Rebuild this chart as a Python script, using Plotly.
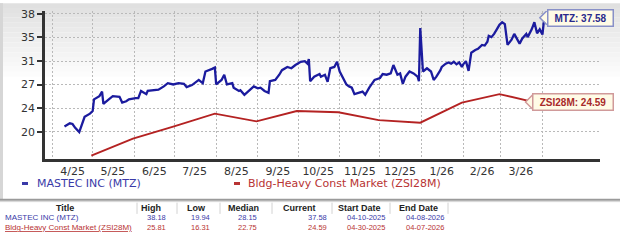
import plotly.graph_objects as go

# ---------------- data ----------------
mtz_dates = [
    "2025-04-10", "2025-04-14", "2025-04-16", "2025-04-18", "2025-04-21", "2025-04-24", "2025-04-25",
    "2025-04-29", "2025-05-01", "2025-05-02", "2025-05-06", "2025-05-08", "2025-05-09", "2025-05-13",
    "2025-05-16", "2025-05-21", "2025-05-23", "2025-05-26", "2025-05-28", "2025-06-02", "2025-06-04",
    "2025-06-06", "2025-06-10", "2025-06-11", "2025-06-15", "2025-06-19", "2025-06-23", "2025-06-26",
    "2025-06-30", "2025-07-04", "2025-07-08", "2025-07-10", "2025-07-14", "2025-07-19", "2025-07-22",
    "2025-07-24", "2025-07-29", "2025-07-31", "2025-08-01", "2025-08-05", "2025-08-07", "2025-08-09",
    "2025-08-13", "2025-08-14", "2025-08-18", "2025-08-19", "2025-08-22", "2025-08-25", "2025-08-29",
    "2025-09-01", "2025-09-03", "2025-09-06", "2025-09-09", "2025-09-10", "2025-09-14", "2025-09-17",
    "2025-09-19", "2025-09-23", "2025-09-26", "2025-09-29", "2025-10-03", "2025-10-06", "2025-10-08",
    "2025-10-09", "2025-10-10", "2025-10-13", "2025-10-17", "2025-10-18", "2025-10-21", "2025-10-23",
    "2025-10-25", "2025-10-28", "2025-10-30", "2025-11-01", "2025-11-04", "2025-11-06", "2025-11-08",
    "2025-11-10", "2025-11-12", "2025-11-15", "2025-11-18", "2025-11-20", "2025-11-23", "2025-11-27",
    "2025-12-01", "2025-12-03", "2025-12-06", "2025-12-09", "2025-12-11", "2025-12-14", "2025-12-16",
    "2025-12-18", "2025-12-20", "2025-12-23", "2025-12-26", "2025-12-29", "2025-12-30", "2025-12-31",
    "2026-01-02", "2026-01-05", "2026-01-08", "2026-01-10", "2026-01-12", "2026-01-15", "2026-01-16",
    "2026-01-19", "2026-01-21", "2026-01-23", "2026-01-25", "2026-01-27", "2026-01-29", "2026-01-31",
    "2026-02-01", "2026-02-03", "2026-02-05", "2026-02-06", "2026-02-07", "2026-02-10", "2026-02-12",
    "2026-02-15", "2026-02-17", "2026-02-19", "2026-02-20", "2026-02-22", "2026-02-24", "2026-02-26",
    "2026-02-28", "2026-03-02", "2026-03-04", "2026-03-06", "2026-03-09", "2026-03-11", "2026-03-13",
    "2026-03-15", "2026-03-17", "2026-03-20", "2026-03-21", "2026-03-24", "2026-03-26", "2026-03-28",
    "2026-03-30", "2026-04-01", "2026-04-02", "2026-04-08",
]
mtz_values = [
    20.8, 21.3, 21.2, 20.6, 19.94, 21.5, 22.3,
    22.8, 23.2, 25.0, 25.5, 26.2, 24.3, 25.0,
    25.5, 25.4, 24.5, 24.7, 25.0, 25.2, 25.2,
    26.3, 25.8, 26.3, 26.4, 26.5, 27.0, 27.5,
    27.3, 27.5, 27.4, 26.9, 27.2, 28.0, 27.5,
    29.3, 29.7, 29.9, 27.3, 28.0, 28.8, 27.3,
    27.5, 26.8, 26.3, 26.4, 25.7, 26.3, 27.0,
    26.7, 26.8, 26.3, 26.0, 27.8, 28.0, 28.8,
    29.5, 30.0, 29.8, 30.3, 30.8, 30.9, 30.5,
    31.2, 27.8, 28.5, 28.9, 28.5, 28.8, 27.7,
    29.8, 30.0, 30.8, 29.3, 28.0, 27.3, 27.0,
    26.8, 25.8, 26.0, 26.2, 25.7, 26.8, 28.0,
    28.3, 28.9, 28.8, 29.0, 30.3, 28.8, 29.0,
    27.4, 28.5, 29.3, 29.0, 28.5, 27.8, 36.0,
    29.3, 29.8, 29.3, 28.0, 28.5, 29.5, 30.0,
    30.5, 30.7, 30.5, 30.8, 30.4, 30.7, 30.0,
    30.4, 30.9, 29.4, 30.8, 32.2, 32.6, 32.8,
    33.4, 33.3, 33.9, 34.8, 34.6, 35.1, 35.8,
    36.5, 36.9, 36.6, 33.4, 34.2, 35.1, 34.3,
    33.6, 34.4, 35.1, 34.6, 35.8, 36.9, 35.2,
    35.8, 35.0, 36.9, 37.58,
]

zsi_dates = [
    "2025-04-30", "2025-05-31", "2025-06-30", "2025-07-31", "2025-08-31", "2025-09-30",
    "2025-10-31", "2025-11-30", "2025-12-31", "2026-01-31", "2026-02-28", "2026-03-31", "2026-04-07",
]
zsi_values = [16.31, 18.94, 20.8, 22.8, 21.6, 23.2, 23.0, 21.8, 21.4, 24.5, 25.81, 24.3, 24.59]

y_tick_vals = [20, 23.64, 27.27, 30.91, 34.55, 38.18]
y_tick_text = ["20", "24", "27", "31", "35", "38"]

x_month_starts = [
    "2025-04-01", "2025-05-01", "2025-06-01", "2025-07-01", "2025-08-01", "2025-09-01", "2025-10-01",
    "2025-11-01", "2025-12-01", "2026-01-01", "2026-02-01", "2026-03-01", "2026-04-01",
]
x_label_dates = [
    "2025-04-16", "2025-05-16", "2025-06-16", "2025-07-16", "2025-08-16", "2025-09-16",
    "2025-10-16", "2025-11-16", "2025-12-16", "2026-01-16", "2026-02-15", "2026-03-16",
]
x_label_text = ["4/25", "5/25", "6/25", "7/25", "8/25", "9/25", "10/25", "11/25", "12/25", "1/26", "2/26", "3/26"]

series_names = ["MASTEC INC (MTZ)", "Bldg-Heavy Const Market (ZSI28M)"]
series_short = ["MTZ", "ZSI28M"]
table_headers = ["Title", "High", "Low", "Median", "Current", "Start Date", "End Date"]
table_high = ["38.18", "25.81"]
table_low = ["19.94", "16.31"]
table_median = ["28.15", "22.75"]
table_current = ["37.58", "24.59"]
table_start = ["04-10-2025", "04-30-2025"]
table_end = ["04-08-2026", "04-07-2026"]

# ---------------- styling / layout helpers ----------------
W, H = 620, 240
L, R, T, B = 45, 20, 8, 81
PW, PH = W - L - R, H - T - B


def px_x(x):
    return (x - L) / PW


def px_y(y):
    return (H - B - y) / PH


BLUE_LINE = "#1b1b9e"
RED_LINE = "#b42222"
BLUE_TXT = "#3a3aa8"
RED_TXT = "#b83333"
VERDANA = "DejaVu Sans"
ARIAL = "Liberation Sans"
GRID = "#b9b9b9"
CREAM = "#fffbe6"

fig = go.Figure()
fig.add_trace(go.Scatter(x=zsi_dates, y=zsi_values, mode="lines",
                         line=dict(color=RED_LINE, width=1.9), name=series_names[1], hoverinfo="skip"))
fig.add_trace(go.Scatter(x=mtz_dates, y=mtz_values, mode="lines",
                         line=dict(color=BLUE_LINE, width=2.3), name=series_names[0], hoverinfo="skip"))

shapes = []
# background gradient bands across the top
n_b = 16
for i in range(n_b):
    g = int(224 + (255 - 224) * i / (n_b - 1))
    col = f"rgb({g},{g},{g})"
    shapes.append(dict(type="rect", xref="paper", yref="paper", layer="below",
                       x0=px_x(0), x1=px_x(W), y0=px_y((i + 1) * 5), y1=px_y(i * 5),
                       fillcolor=col, line=dict(width=0)))
# left border bar
shapes.append(dict(type="rect", xref="paper", yref="paper", layer="below",
                   x0=px_x(0), x1=px_x(3), y0=px_y(200), y1=px_y(0),
                   fillcolor="#d6d6d6", line=dict(width=0)))
# legend dashes
shapes.append(dict(type="line", xref="paper", yref="paper", x0=px_x(22), x1=px_x(28),
                   y0=px_y(184), y1=px_y(184), line=dict(color=BLUE_TXT, width=3)))
shapes.append(dict(type="line", xref="paper", yref="paper", x0=px_x(234), x1=px_x(240),
                   y0=px_y(184), y1=px_y(184), line=dict(color=RED_TXT, width=3)))
# table separator lines
shapes.append(dict(type="line", xref="paper", yref="paper", x0=px_x(0), x1=px_x(W),
                   y0=px_y(200.5), y1=px_y(200.5), line=dict(color="#9a9a9a", width=2)))
shapes.append(dict(type="line", xref="paper", yref="paper", x0=px_x(0), x1=px_x(W),
                   y0=px_y(202.5), y1=px_y(202.5), line=dict(color="#d4d4d4", width=1)))
for cx in [137, 177, 220, 272, 332, 390, 448]:
    shapes.append(dict(type="line", xref="paper", yref="paper", x0=px_x(cx), x1=px_x(cx),
                       y0=px_y(215), y1=px_y(203.5), line=dict(color="#d2d2d2", width=1)))

# pointer triangles for the end-value labels (pixel offsets from last point)
label_specs = [
    (mtz_dates[-1], mtz_values[-1], -5, "#8890c8"),
    (zsi_dates[-1], zsi_values[-1], -18, "#d09a9a"),
]
for lx, ly, off, bcol in label_specs:
    tip = off - 7
    shapes.append(dict(type="path", xref="x", yref="y", xsizemode="pixel", ysizemode="pixel",
                       xanchor=lx, yanchor=ly, path=f"M {off+1},-7 L {tip},0 L {off+1},7 Z",
                       fillcolor=CREAM, line=dict(width=0), layer="above"))
    shapes.append(dict(type="path", xref="x", yref="y", xsizemode="pixel", ysizemode="pixel",
                       xanchor=lx, yanchor=ly, path=f"M {off},-7 L {tip},0 L {off},7",
                       line=dict(color=bcol, width=1.5), layer="above"))

annotations = []
# legend text
annotations.append(dict(xref="paper", yref="paper", x=px_x(35), y=px_y(184), xanchor="left", yanchor="middle",
                        text=series_names[0], showarrow=False, font=dict(family=VERDANA, size=11, color=BLUE_TXT)))
annotations.append(dict(xref="paper", yref="paper", x=px_x(246), y=px_y(184), xanchor="left", yanchor="middle",
                        text=series_names[1], showarrow=False, font=dict(family=VERDANA, size=11, color=RED_TXT)))

# end-value labels
annotations.append(dict(xref="x", yref="y", x=mtz_dates[-1], y=mtz_values[-1], xanchor="left", yanchor="middle",
                        xshift=-5, text=f"<b>{series_short[0]}: {mtz_values[-1]:.2f}</b>", showarrow=False,
                        bgcolor=CREAM, bordercolor="#8890c8", borderwidth=1.5, borderpad=2, width=60,
                        font=dict(family=ARIAL, size=10, color="#2a2a8c")))
annotations.append(dict(xref="x", yref="y", x=zsi_dates[-1], y=zsi_values[-1], xanchor="left", yanchor="middle",
                        xshift=-18, text=f"<b>{series_short[1]}: {zsi_values[-1]:.2f}</b>", showarrow=False,
                        bgcolor=CREAM, bordercolor="#d09a9a", borderwidth=1.5, borderpad=2, width=75,
                        font=dict(family=ARIAL, size=10, color="#a82a2a")))

# table header
header_centers = [65, 151, 196, 243.5, 299.5, 359.5, 418]
for hx, htxt in zip(header_centers, table_headers):
    annotations.append(dict(xref="paper", yref="paper", x=px_x(hx), y=px_y(209), xanchor="center",
                            yanchor="middle", text=f"<b>{htxt}</b>", showarrow=False,
                            font=dict(family=ARIAL, size=9, color="#222222")))
# table rows
row_y = [218.5, 229]
row_col = [BLUE_TXT, RED_TXT]
value_right = [168, 212, 259, 329, 387, 446]
for i in range(2):
    title = series_names[i] if i == 0 else f"<u>{series_names[i]}</u>"
    annotations.append(dict(xref="paper", yref="paper", x=px_x(3), y=px_y(row_y[i]), xanchor="left",
                            yanchor="middle", text=title, showarrow=False,
                            font=dict(family=ARIAL, size=8, color=row_col[i])))
    vals = [table_high[i], table_low[i], table_median[i], table_current[i], table_start[i], table_end[i]]
    for vx, v in zip(value_right, vals):
        annotations.append(dict(xref="paper", yref="paper", x=px_x(vx), y=px_y(row_y[i]), xanchor="right",
                                yanchor="middle", text=v, showarrow=False,
                                font=dict(family=ARIAL, size=7.5, color=row_col[i])))

fig.update_layout(
    width=W, height=H,
    margin=dict(l=L, r=R, t=T, b=B, pad=0),
    paper_bgcolor="white", plot_bgcolor="rgba(0,0,0,0)",
    showlegend=False,
    shapes=shapes, annotations=annotations,
    xaxis=dict(type="date", range=["2025-03-26 12:00", "2026-05-13 21:00"],
               tickmode="array", tickvals=x_label_dates, ticktext=x_label_text, ticks="",
               showgrid=False, zeroline=False, showline=True, linecolor="#333333", linewidth=2.5,
               tickfont=dict(family=VERDANA, size=11, color="#333333"),
               minor=dict(tickmode="array", tickvals=x_month_starts, showgrid=True, gridcolor=GRID,
                          griddash="2px,2px", gridwidth=1, ticks="")),
    yaxis=dict(range=[15.8, 38.63], tickmode="array", tickvals=y_tick_vals, ticktext=y_tick_text,
               ticks="outside", ticklen=5, tickwidth=1.5, tickcolor="#333333",
               showgrid=True, gridcolor=GRID, griddash="2px,2px", gridwidth=1, zeroline=False,
               showline=True, linecolor="#333333", linewidth=2.5,
               tickfont=dict(family=VERDANA, size=11, color="#333333")),
)

fig.write_html("out.html")
